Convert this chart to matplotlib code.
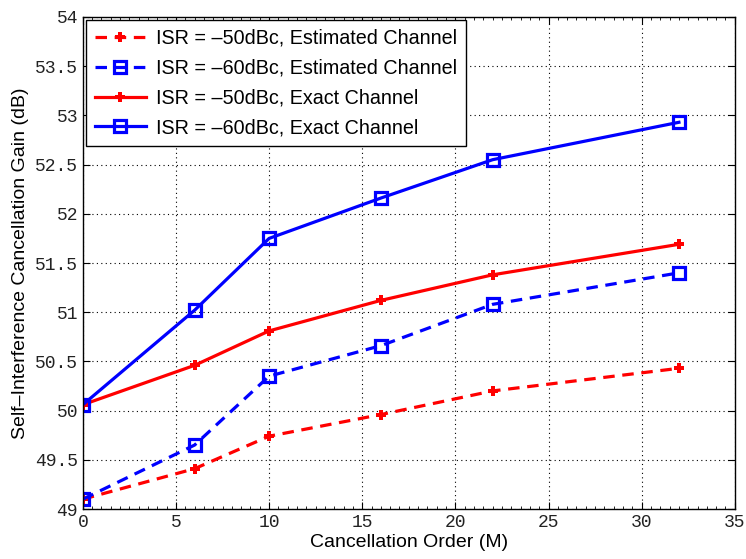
import matplotlib
matplotlib.use('Agg')
import matplotlib.pyplot as plt
from matplotlib.ticker import MultipleLocator, FormatStrFormatter

# data
order = [0, 6, 10, 16, 22, 32]
est_50 = [49.10, 49.41, 49.74, 49.96, 50.20, 50.43]
est_60 = [49.10, 49.65, 50.35, 50.66, 51.08, 51.40]
exact_50 = [50.06, 50.46, 50.81, 51.12, 51.38, 51.69]
exact_60 = [50.06, 51.02, 51.75, 52.16, 52.55, 52.93]

labels = [
    'ISR = \u201350dBc, Estimated Channel',
    'ISR = \u201360dBc, Estimated Channel',
    'ISR = \u201350dBc, Exact Channel',
    'ISR = \u201360dBc, Exact Channel',
]

plt.rcParams['font.family'] = ['Liberation Sans', 'DejaVu Sans']

fig = plt.figure(figsize=(7.46, 5.59), dpi=100)
ax = fig.add_axes([0.111, 0.0894, 0.874, 0.8802])

lw = 2.3
dash = (0, (3.6, 2.4))
ax.plot(order, est_50, color='#ff0000', ls=dash, lw=lw, marker='P', ms=7.5,
        mew=0, label=labels[0])
ax.plot(order, est_60, color='#0000ff', ls=dash, lw=lw, marker='s', ms=9,
        mfc='none', mew=2.3, label=labels[1])
ax.plot(order, exact_50, color='#ff0000', ls='-', lw=lw, marker='P', ms=7.5,
        mew=0, label=labels[2])
ax.plot(order, exact_60, color='#0000ff', ls='-', lw=lw, marker='s', ms=9,
        mfc='none', mew=2.3, label=labels[3])

ax.set_xlim(0, 35)
ax.set_ylim(49, 54)
ax.xaxis.set_major_locator(MultipleLocator(5))
ax.xaxis.set_minor_locator(MultipleLocator(0.5))
ax.yaxis.set_major_locator(MultipleLocator(0.5))
ax.yaxis.set_major_formatter(FormatStrFormatter('%g'))
ax.tick_params(which='both', direction='in', top=True, right=True)
ax.tick_params(which='major', length=5, labelsize=13, labelcolor='#222222')
ax.tick_params(which='minor', length=2.5)
for t in ax.get_xticklabels() + ax.get_yticklabels():
    t.set_family('Liberation Mono')

ax.grid(True, which='major', color='black', ls=(0, (1, 3)), lw=0.8)
for s in ax.spines.values():
    s.set_linewidth(1.0)

ax.set_xlabel('Cancellation Order (M)', fontsize=14, labelpad=2)
ax.set_ylabel('Self\u2013Interference Cancellation Gain (dB)', fontsize=14, labelpad=4)

leg = ax.legend(loc='upper left', fontsize=14.2, fancybox=False, framealpha=1,
                edgecolor='black', borderaxespad=0.15, handlelength=2.6,
                handletextpad=0.5, labelspacing=0.55, borderpad=0.45)
leg.get_frame().set_linewidth(1.0)

fig.savefig('out.png', dpi=100)
